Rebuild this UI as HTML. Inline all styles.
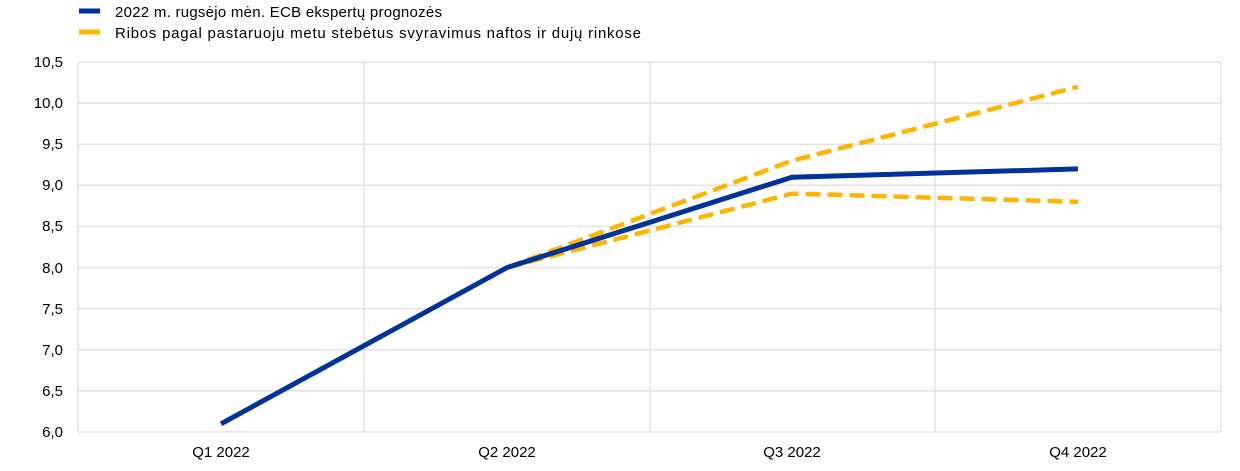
<!DOCTYPE html>
<html><head><meta charset="utf-8"><style>
body{margin:0;background:#fff;}
svg{display:block;font-family:"Liberation Sans",sans-serif;}
</style></head><body>
<svg width="1240" height="471" viewBox="0 0 1240 471">
<rect x="79" y="8.5" width="21" height="5" fill="#003299"/>
<rect x="79" y="29.5" width="21" height="5" fill="#ffb400"/>
<text x="115" y="17" font-size="15" fill="#000" textLength="327" lengthAdjust="spacing">2022 m. rugsėjo mėn. ECB ekspertų prognozės</text>
<text x="115" y="38" font-size="15" fill="#000" textLength="526" lengthAdjust="spacing">Ribos pagal pastaruoju metu stebėtus svyravimus naftos ir dujų rinkose</text>
<g stroke="#e3e3e3" stroke-width="1.5" fill="none">
<line x1="78" y1="62" x2="1221" y2="62"/>
<line x1="78" y1="103.1" x2="1221" y2="103.1"/>
<line x1="78" y1="144.2" x2="1221" y2="144.2"/>
<line x1="78" y1="185.3" x2="1221" y2="185.3"/>
<line x1="78" y1="226.4" x2="1221" y2="226.4"/>
<line x1="78" y1="267.6" x2="1221" y2="267.6"/>
<line x1="78" y1="308.7" x2="1221" y2="308.7"/>
<line x1="78" y1="349.8" x2="1221" y2="349.8"/>
<line x1="78" y1="390.9" x2="1221" y2="390.9"/>
<line x1="78" y1="432" x2="1221" y2="432"/>
<line x1="78" y1="62" x2="78" y2="432"/>
<line x1="364" y1="62" x2="364" y2="432"/>
<line x1="650" y1="62" x2="650" y2="432"/>
<line x1="935" y1="62" x2="935" y2="432"/>
<line x1="1221" y1="62" x2="1221" y2="432"/>
</g>
<g font-size="15" fill="#000" text-anchor="end">
<text x="63" y="67">10,5</text><text x="63" y="108">10,0</text><text x="63" y="149">9,5</text>
<text x="63" y="190">9,0</text><text x="63" y="231">8,5</text><text x="63" y="273">8,0</text>
<text x="63" y="314">7,5</text><text x="63" y="355">7,0</text><text x="63" y="396">6,5</text>
<text x="63" y="437">6,0</text>
</g>
<g font-size="15" fill="#000" text-anchor="middle">
<text x="221" y="457">Q1 2022</text><text x="507" y="457">Q2 2022</text>
<text x="792" y="457">Q3 2022</text><text x="1078" y="457">Q4 2022</text>
</g>
<g fill="none" stroke="#ffb400" stroke-width="4.5" stroke-dasharray="15,7">
<polyline points="507,267.6 792,160.7 1078,86.8"/>
<polyline points="507,267.6 792,193.6 1078,201.8"/>
</g>
<polyline points="221,423.8 507,267.6 792,177.2 1078,168.9" fill="none" stroke="#003299" stroke-width="5"/>
</svg>
</body></html>
